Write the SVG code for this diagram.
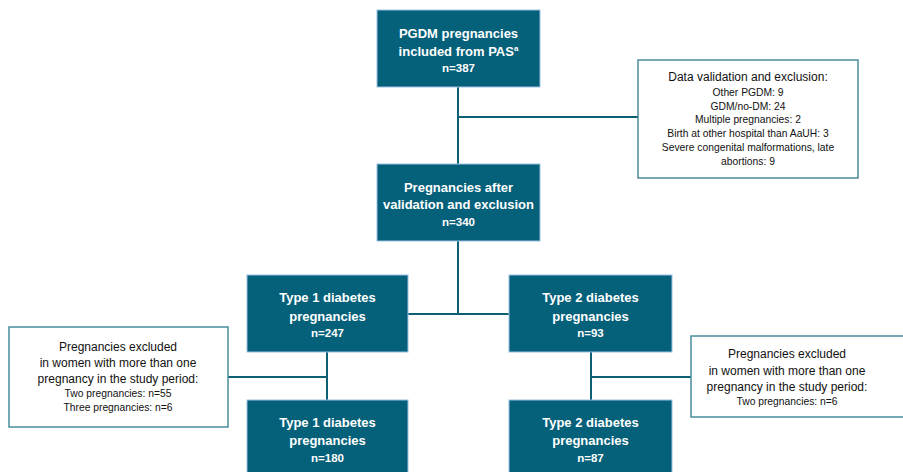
<svg xmlns="http://www.w3.org/2000/svg" width="903" height="472" viewBox="0 0 903 472">
<style>
.dk{fill:#05607a;stroke:#9cc2e5;stroke-width:1}
.wb{fill:#ffffff;stroke:#4a8d9c;stroke-width:1.5}
.tb{font-family:"Liberation Sans",Arial,sans-serif;font-weight:bold;fill:#ffffff;text-anchor:middle;font-size:13px}
.tn{font-family:"Liberation Sans",Arial,sans-serif;font-weight:bold;fill:#ffffff;text-anchor:middle;font-size:11.5px}
.tr{font-family:"Liberation Sans",Arial,sans-serif;fill:#111111;text-anchor:middle;font-size:12px}
.ts{font-family:"Liberation Sans",Arial,sans-serif;fill:#111111;text-anchor:middle;font-size:10.3px}
.ln{stroke:#0d5f72;stroke-width:2;fill:none}
</style>
<rect width="903" height="472" fill="#ffffff"/>
<g id="connectors">
<line class="ln" x1="458" y1="87" x2="458" y2="164"/>
<line class="ln" x1="458" y1="117" x2="638" y2="117"/>
<line class="ln" x1="458" y1="241" x2="458" y2="314"/>
<line class="ln" x1="408" y1="314" x2="509" y2="314"/>
<line class="ln" x1="327" y1="352" x2="327" y2="400"/>
<line class="ln" x1="228" y1="377" x2="327" y2="377"/>
<line class="ln" x1="591" y1="352" x2="591" y2="400"/>
<line class="ln" x1="591" y1="377" x2="691" y2="377"/>
</g>
<g id="pgdm">
<rect class="dk" x="377" y="10" width="163" height="77"/>
<text class="tb" x="458.5" y="38">PGDM pregnancies</text>
<text class="tb" x="458.5" y="56">included from PAS<tspan font-size="8" dy="-5">a</tspan></text>
<text class="tn" x="458.5" y="72">n=387</text>
</g>
<g id="validation">
<rect class="wb" x="638" y="60" width="220" height="118"/>
<text class="tr" x="748" y="81">Data validation and exclusion:</text>
<text class="ts" x="748" y="96">Other PGDM: 9</text>
<text class="ts" x="748" y="110">GDM/no-DM: 24</text>
<text class="ts" x="748" y="123">Multiple pregnancies: 2</text>
<text class="ts" x="748" y="137">Birth at other hospital than AaUH: 3</text>
<text class="ts" x="748" y="151">Severe congenital malformations, late</text>
<text class="ts" x="748" y="165">abortions: 9</text>
</g>
<g id="after">
<rect class="dk" x="377" y="164" width="163" height="77"/>
<text class="tb" x="458.5" y="192">Pregnancies after</text>
<text class="tb" x="458.5" y="209">validation and exclusion</text>
<text class="tn" x="458.5" y="226">n=340</text>
</g>
<g id="t1a">
<rect class="dk" x="247" y="275" width="161" height="77"/>
<text class="tb" x="327.5" y="302">Type 1 diabetes</text>
<text class="tb" x="327.5" y="321">pregnancies</text>
<text class="tn" x="327.5" y="337">n=247</text>
</g>
<g id="t2a">
<rect class="dk" x="509" y="275" width="163" height="77"/>
<text class="tb" x="590.5" y="302">Type 2 diabetes</text>
<text class="tb" x="590.5" y="321">pregnancies</text>
<text class="tn" x="590.5" y="337">n=93</text>
</g>
<g id="excl1">
<rect class="wb" x="9" y="327" width="219" height="100"/>
<text class="tr" x="118" y="351">Pregnancies excluded</text>
<text class="tr" x="118" y="367">in women with more than one</text>
<text class="tr" x="118" y="383">pregnancy in the study period:</text>
<text class="ts" x="118" y="397">Two pregnancies: n=55</text>
<text class="ts" x="118" y="411">Three pregnancies: n=6</text>
</g>
<g id="excl2">
<rect class="wb" x="691" y="336" width="225" height="81"/>
<text class="tr" x="787" y="358">Pregnancies excluded</text>
<text class="tr" x="787" y="375">in women with more than one</text>
<text class="tr" x="787" y="391">pregnancy in the study period:</text>
<text class="ts" x="787" y="405">Two pregnancies: n=6</text>
</g>
<g id="t1b">
<rect class="dk" x="247" y="400" width="161" height="80"/>
<text class="tb" x="327.5" y="427">Type 1 diabetes</text>
<text class="tb" x="327.5" y="445">pregnancies</text>
<text class="tn" x="327.5" y="462">n=180</text>
</g>
<g id="t2b">
<rect class="dk" x="509" y="400" width="163" height="80"/>
<text class="tb" x="590.5" y="427">Type 2 diabetes</text>
<text class="tb" x="590.5" y="445">pregnancies</text>
<text class="tn" x="590.5" y="462">n=87</text>
</g>
</svg>
